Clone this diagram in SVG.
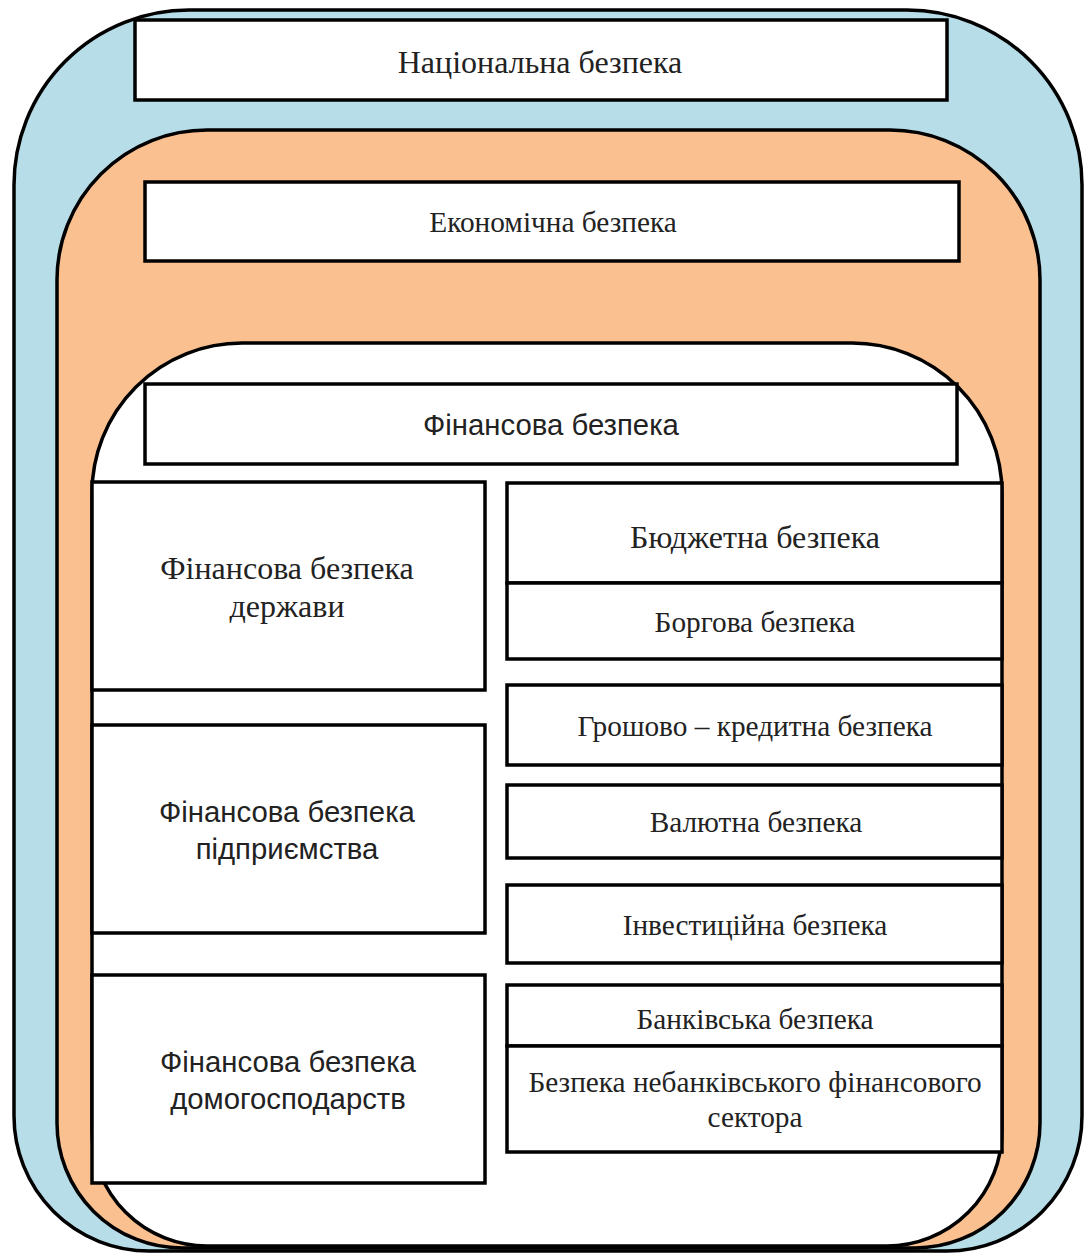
<svg xmlns="http://www.w3.org/2000/svg" width="1088" height="1255" viewBox="0 0 1088 1255">
<style>
.shape{stroke:#000;stroke-width:3.5}
.box{fill:#fff;stroke:#000;stroke-width:3.5}
.serif{font-family:"Liberation Serif","Times New Roman",serif;font-size:29.3px;fill:#222;text-anchor:middle}
.big{font-size:32px}
.sans{font-family:"Liberation Sans",Arial,sans-serif;font-size:29.3px;fill:#222;text-anchor:middle}
</style>
<rect width="1088" height="1255" fill="#fff"/>
<g id="national-layer">
<path class="shape" fill="#b7dde8" d="M 189,10 H 907 A 175 175 0 0 1 1082,185 V 1116 A 135 135 0 0 1 947,1251 H 149 A 135 135 0 0 1 14,1116 V 185 A 175 175 0 0 1 189,10 Z"/>
</g>
<g id="economic-layer">
<path class="shape" fill="#fac090" d="M 207,130 H 890 A 150 150 0 0 1 1040,280 V 1123 A 125 125 0 0 1 915,1248 H 182 A 125 125 0 0 1 57,1123 V 280 A 150 150 0 0 1 207,130 Z"/>
</g>
<g id="financial-layer">
<path class="shape" fill="#fff" d="M 242,343 H 852 A 150 150 0 0 1 1002,493 V 1131 A 115 115 0 0 1 887,1246 H 207 A 115 115 0 0 1 92,1131 V 493 A 150 150 0 0 1 242,343 Z"/>
</g>
<g id="national">
<rect class="box" x="135" y="20" width="812" height="80"/>
<text class="serif big" x="540" y="73">Національна безпека</text>
</g>
<g id="economic">
<rect class="box" x="145" y="182" width="814" height="79"/>
<text class="serif" x="553" y="232">Економічна безпека</text>
</g>
<g id="financial">
<rect class="box" x="145" y="384" width="812" height="80"/>
<text class="sans" x="551" y="435">Фінансова безпека</text>
</g>
<g id="state">
<rect class="box" x="92" y="482" width="393" height="208"/>
<text class="serif big" x="287" y="579">Фінансова безпека</text>
<text class="serif big" x="287" y="617">держави</text>
</g>
<g id="enterprise">
<rect class="box" x="92" y="725" width="393" height="208"/>
<text class="sans" x="287" y="822">Фінансова безпека</text>
<text class="sans" x="287" y="859">підприємства</text>
</g>
<g id="households">
<rect class="box" x="92" y="975" width="393" height="208"/>
<text class="sans" x="288" y="1072">Фінансова безпека</text>
<text class="sans" x="288" y="1109">домогосподарств</text>
</g>
<g id="budget">
<rect class="box" x="507" y="483" width="495" height="100"/>
<text class="serif big" x="755" y="548">Бюджетна безпека</text>
</g>
<g id="debt">
<rect class="box" x="507" y="583" width="495" height="76"/>
<text class="serif" x="755" y="632">Боргова безпека</text>
</g>
<g id="monetary">
<rect class="box" x="507" y="685" width="495" height="80"/>
<text class="serif" x="755" y="736">Грошово – кредитна безпека</text>
</g>
<g id="currency">
<rect class="box" x="507" y="785" width="495" height="73"/>
<text class="serif" x="756" y="832">Валютна безпека</text>
</g>
<g id="investment">
<rect class="box" x="507" y="885" width="495" height="78"/>
<text class="serif" x="755" y="935">Інвестиційна безпека</text>
</g>
<g id="banking">
<rect class="box" x="507" y="985" width="495" height="61"/>
<text class="serif" x="755" y="1029">Банківська безпека</text>
</g>
<g id="nonbank">
<rect class="box" x="507" y="1046" width="495" height="106"/>
<text class="serif" x="755" y="1092">Безпека небанківського фінансового</text>
<text class="serif" x="755" y="1127">сектора</text>
</g>
<g id="connectors"></g>
</svg>
